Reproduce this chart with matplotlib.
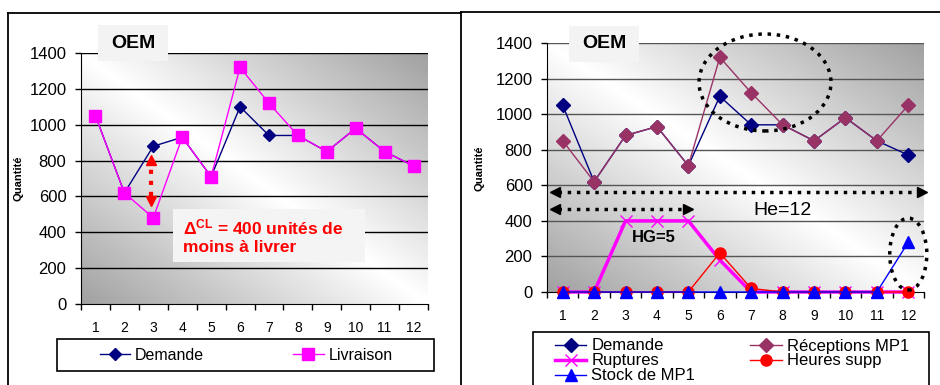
import numpy as np
import matplotlib
matplotlib.use("Agg")
import matplotlib.pyplot as plt
from matplotlib.patches import Rectangle, Ellipse
from matplotlib.lines import Line2D

plt.rcParams['font.family'] = ['Liberation Sans', 'DejaVu Sans']
plt.rcParams['mathtext.fontset'] = 'custom'
plt.rcParams['mathtext.rm'] = 'Liberation Sans:bold'
plt.rcParams['mathtext.it'] = 'Liberation Sans:bold'
plt.rcParams['mathtext.bf'] = 'Liberation Sans:bold'

# data
periods = list(range(1, 13))
demande = [1050, 620, 880, 930, 710, 1100, 940, 940, 850, 980, 850, 770]
livraison = [1050, 620, 480, 930, 710, 1320, 1120, 940, 850, 980, 850, 770]
receptions_mp1 = [850, 620, 880, 930, 710, 1320, 1120, 940, 850, 980, 850, 1050]
ruptures = [0, 0, 400, 400, 400, 180, 0, 0, 0, 0, 0, 0]
heures_supp = [0, 0, 0, 0, 0, 220, 20, 0, 0, 0, 0, 0]
stock_mp1 = [0, 0, 0, 0, 0, 0, 0, 0, 0, 0, 0, 280]
y_ticks = [0, 200, 400, 600, 800, 1000, 1200, 1400]

W, H = 940, 385


def fx(px):
    return px / W


def fy(py):
    return 1 - py / H


fig = plt.figure(figsize=(9.4, 3.85), dpi=100)


def setup_axes(rect, grid_color):
    ax = fig.add_axes(rect)
    # diagonal gradient background (dark corners bottom-left / top-right)
    n = 200
    u, v = np.meshgrid(np.linspace(0, 1, n), np.linspace(0, 1, n))
    g = 1 - 0.37 * np.abs(u + v - 1)
    ax.imshow(g, extent=[0, 1, 0, 1], transform=ax.transAxes, origin='lower',
              cmap='gray', vmin=0, vmax=1, aspect='auto', zorder=0)
    ax.set_xlim(0.5, 12.5)
    ax.set_ylim(0, 1400)
    ax.set_yticks(y_ticks)
    ax.set_xticks(periods)
    ax.set_xticks(np.arange(0.5, 13, 1), minor=True)
    ax.tick_params(axis='x', which='major', length=0, pad=12, labelsize=10)
    ax.tick_params(axis='x', which='minor', length=4.5, width=1, direction='out')
    ax.tick_params(axis='y', length=4.5, width=1, pad=6, labelsize=12)
    for y in y_ticks[1:]:
        ax.axhline(y, color=grid_color, lw=1, zorder=1)
    ax.spines['top'].set_visible(False)
    ax.spines['right'].set_visible(False)
    return ax


# ---------------- left chart ----------------
axl = setup_axes([fx(81), fy(304), fx(428) - fx(81), fy(53) - fy(304)], 'black')
axl.plot(periods, demande, color='#000080', lw=1, marker='D', ms=6.5, zorder=3)
axl.plot(periods, livraison, color='#FF00FF', lw=1, marker='s', ms=8, zorder=4)

# red dotted double arrow
axl.plot([2.93, 2.93], [600, 790], color='red', ls=':', lw=3, zorder=5)
axl.plot([2.93], [805], marker='^', color='red', ms=7, zorder=5)
axl.plot([2.93], [575], marker='v', color='red', ms=7, zorder=5)

# annotation box
fig.add_artist(Rectangle((fx(173), fy(262)), fx(365) - fx(173), fy(209) - fy(262),
                         transform=fig.transFigure, facecolor='#f4f4f4', edgecolor='none'))
fig.text(fx(183), fy(236), r'$\Delta^{CL}$' + ' = 400 unités de\nmoins à livrer',
         color='red', fontsize=12.5, fontweight='bold', ha='left', va='center',
         linespacing=1.25)

# left legend
fig.add_artist(Rectangle((fx(57), fy(371)), fx(434) - fx(57), fy(339) - fy(371),
                         transform=fig.transFigure, facecolor='white', edgecolor='black', lw=1.2))
h1 = Line2D([], [], color='#000080', lw=1, marker='D', ms=6.5)
h2 = Line2D([], [], color='#FF00FF', lw=1, marker='s', ms=8)
fig.legend([h1, h2], ['Demande', 'Livraison'], loc='center',
           bbox_to_anchor=(fx(246), fy(355)), ncol=2, frameon=False, fontsize=11.5,
           handlelength=1.9, handletextpad=0.3, columnspacing=5.6, borderpad=0)

# ---------------- right chart ----------------
axr = setup_axes([fx(547), fy(292), fx(924) - fx(547), fy(43) - fy(292)], '#555555')
axr.plot(periods, demande, color='#000080', lw=1, marker='D', ms=7, zorder=3)
axr.plot(periods, receptions_mp1, color='#993366', lw=1, marker='D', ms=7.5, zorder=4)
axr.plot(periods, ruptures, color='#FF00FF', lw=2.5, marker='x', ms=9, mew=1, zorder=5, clip_on=False)
axr.plot(periods, heures_supp, color='red', lw=1, marker='o', ms=8, zorder=6, clip_on=False)
axr.plot(periods, stock_mp1, color='#0000FF', lw=1, marker='^', ms=9, zorder=7, clip_on=False)

# dotted ellipses
axr.add_patch(Ellipse((7.44, 1178), 4.2, 545, fill=False, ls=':', lw=2.5,
                      edgecolor='black', zorder=8, clip_on=False))
axr.add_patch(Ellipse((12.0, 213), 1.18, 405, fill=False, ls=':', lw=2.5,
                      edgecolor='black', zorder=8, clip_on=False))

# dotted horizon arrows
axr.plot([0.85, 12.35], [562, 562], color='black', ls=':', lw=2.5, zorder=8, clip_on=False)
axr.plot([0.75], [562], marker='<', color='black', ms=7, zorder=8, clip_on=False)
axr.plot([12.45], [562], marker='>', color='black', ms=7, zorder=8, clip_on=False)
axr.plot([0.85, 4.9], [466, 466], color='black', ls=':', lw=2.5, zorder=8)
axr.plot([0.75], [466], marker='<', color='black', ms=7, zorder=8)
axr.plot([5.0], [466], marker='>', color='black', ms=7, zorder=8)
axr.text(8.0, 460, 'He=12', fontsize=14, ha='center', va='center', zorder=9)
axr.text(3.9, 305, 'HG=5', fontsize=12, fontweight='bold', ha='center', va='center', zorder=9)

# right legend
fig.add_artist(Rectangle((fx(533), fy(395)), fx(929) - fx(533), fy(332) - fy(395),
                         transform=fig.transFigure, facecolor='white', edgecolor='black', lw=1.2))
hr = [Line2D([], [], color='#000080', lw=1, marker='D', ms=7),
      Line2D([], [], color='#FF00FF', lw=2.5, marker='x', ms=9, mew=1),
      Line2D([], [], color='#0000FF', lw=1, marker='^', ms=9),
      Line2D([], [], color='#993366', lw=1, marker='D', ms=7.5),
      Line2D([], [], color='red', lw=1, marker='o', ms=8)]
fig.legend(hr, ['Demande', 'Ruptures', 'Stock de MP1', 'Réceptions MP1', 'Heures supp'],
           loc='center', bbox_to_anchor=(fx(732), fy(361)), ncol=2, frameon=False,
           fontsize=12, handlelength=1.9, handletextpad=0.3, columnspacing=3.3,
           labelspacing=0.0, borderpad=0)

# OEM title boxes
for x0, y0 in [(98, 25), (569, 26)]:
    fig.add_artist(Rectangle((fx(x0), fy(y0 + 36)), fx(70), 36 / H,
                             transform=fig.transFigure, facecolor='#f3f3f3', edgecolor='none'))
    fig.text(fx(x0 + 35), fy(y0 + 18), 'OEM', fontsize=14, fontweight='bold',
             ha='center', va='center')

# y labels
fig.text(fx(18), fy(178), 'Quantité', rotation=90, fontsize=8, fontweight='bold',
         ha='center', va='center')
fig.text(fx(479), fy(168), 'Quantité', rotation=90, fontsize=8, fontweight='bold',
         ha='center', va='center')

# panel frame lines
fig.add_artist(Line2D([fx(8), fx(461)], [fy(13), fy(13)], color='black', lw=1.3))
fig.add_artist(Line2D([fx(8), fx(8)], [fy(13), 0], color='black', lw=1.3))
fig.add_artist(Line2D([fx(461), fx(461)], [fy(12), 0], color='black', lw=1.3))
fig.add_artist(Line2D([fx(461), 1], [fy(12), fy(12)], color='black', lw=1.3))

fig.savefig('out.png', dpi=100)
